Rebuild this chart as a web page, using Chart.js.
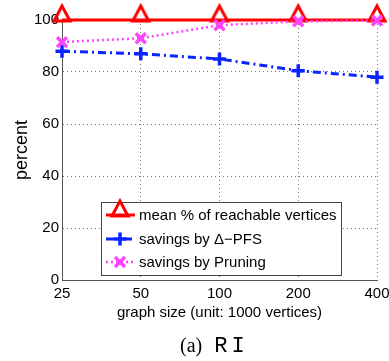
<!DOCTYPE html>
<html>
<head>
<meta charset="utf-8">
<script src="https://cdn.jsdelivr.net/npm/chart.js@4/dist/chart.umd.min.js"></script>
<style>
  html, body { margin: 0; padding: 0; background: #fff; }
  #wrap { position: relative; width: 389px; height: 361px; }
  #c { position: absolute; left: 0; top: 0; }
  #cap { position: absolute; left: 180px; top: 333px; white-space: nowrap; line-height: 24px; }
  #cap .a { font-family: "Liberation Serif", "DejaVu Serif", serif; font-size: 20px; }
  #cap .ri { font-family: "Liberation Mono", "DejaVu Sans Mono", monospace; font-size: 22px; letter-spacing: 4px; margin-left: 12px; }
</style>
</head>
<body>
<div id="wrap">
  <canvas id="c" width="389" height="361"></canvas>
  <div id="cap"><span class="a">(a)</span><span class="ri">RI</span></div>
</div>
<script>
// ---- data ----
const categories = ['25', '50', '100', '200', '400'];
const reachable = [100, 100, 100, 100, 100];
const savingsPFS = [88, 87, 85, 80.5, 78];
const savingsPruning = [91.5, 93, 98, 99.5, 99.8];
const yTicks = [0, 20, 40, 60, 80, 100];
const seriesNames = ['mean % of reachable vertices', 'savings by \u0394\u2212PFS', 'savings by Pruning'];

const FONT = '"Liberation Sans", Arial, sans-serif';

// triangle marker image (apex above, base near the point)
function triImg() {
  const c = document.createElement('canvas');
  c.width = 24; c.height = 36;
  const g = c.getContext('2d');
  g.strokeStyle = '#ff0000';
  g.lineWidth = 3;
  g.lineJoin = 'miter';
  g.beginPath();
  g.moveTo(12, 4);
  g.lineTo(20, 19);
  g.lineTo(4, 19);
  g.closePath();
  g.stroke();
  return c;
}
const TRI = triImg();

const datasets = [
  { label: seriesNames[0], data: reachable, borderColor: '#ff0000', backgroundColor: '#ff0000',
    borderWidth: 3, pointStyle: TRI, pointRadius: 9, order: 2, clip: false },
  { label: seriesNames[1], data: savingsPFS, borderColor: '#0a24ff', backgroundColor: '#0a24ff',
    borderWidth: 3, borderDash: [8, 4, 2, 4], pointStyle: 'cross', pointRadius: 6.5,
    pointBorderWidth: 3.5, order: 1, clip: false },
  { label: seriesNames[2], data: savingsPruning, borderColor: '#ff44ff', backgroundColor: '#ff44ff',
    borderWidth: 2.5, borderDash: [2, 3], pointStyle: 'crossRot', pointRadius: 7,
    pointBorderWidth: 3.5, order: 0, clip: false }
];

const legendBox = {
  id: 'legendBox',
  afterDraw(chart) {
    const ctx = chart.ctx;
    const x0 = 101, y0 = 202, w = 240, h = 73;
    ctx.save();
    ctx.fillStyle = '#fff';
    ctx.fillRect(x0, y0, w, h);
    ctx.strokeStyle = '#444';
    ctx.lineWidth = 1;
    ctx.strokeRect(x0 + 0.5, y0 + 0.5, w, h);
    const rows = [215, 239, 262];
    datasets.forEach((ds, i) => {
      const y = rows[i];
      ctx.save();
      ctx.strokeStyle = ds.borderColor;
      ctx.lineWidth = ds.borderWidth;
      ctx.setLineDash(ds.borderDash || []);
      ctx.beginPath();
      ctx.moveTo(106, y);
      ctx.lineTo(135, y);
      ctx.stroke();
      ctx.setLineDash([]);
      const cx = 120;
      if (ds.pointStyle === TRI) {
        ctx.drawImage(TRI, cx - 12, y - 18);
      } else {
        ctx.lineWidth = ds.pointBorderWidth;
        ctx.beginPath();
        if (ds.pointStyle === 'cross') {
          const r = ds.pointRadius;
          ctx.moveTo(cx - r, y); ctx.lineTo(cx + r, y);
          ctx.moveTo(cx, y - r); ctx.lineTo(cx, y + r);
        } else {
          const r = ds.pointRadius * Math.SQRT1_2;
          ctx.moveTo(cx - r, y - r); ctx.lineTo(cx + r, y + r);
          ctx.moveTo(cx - r, y + r); ctx.lineTo(cx + r, y - r);
        }
        ctx.stroke();
      }
      ctx.restore();
      ctx.fillStyle = '#000';
      ctx.font = '15px ' + FONT;
      ctx.textBaseline = 'middle';
      ctx.textAlign = 'left';
      ctx.fillText(ds.label, 139, y + 1);
    });
    ctx.restore();
  }
};

new Chart(document.getElementById('c'), {
  type: 'line',
  data: { labels: categories, datasets },
  options: {
    responsive: false,
    animation: false,
    devicePixelRatio: 1,
    layout: { padding: { top: 20, right: 11, bottom: 0, left: 0 } },
    plugins: { legend: { display: false }, tooltip: { enabled: false } },
    elements: { line: { tension: 0 } },
    scales: {
      x: {
        type: 'category',
        offset: false,
        grid: { color: '#777', lineWidth: 1, drawTicks: false },
        border: { display: true, color: '#555', width: 1, dash: [1, 3] },
        ticks: { color: '#000', font: { family: FONT, size: 15 }, padding: 5, maxRotation: 0, autoSkip: false },
        title: { display: true, text: 'graph size (unit: 1000 vertices)', color: '#000',
                 font: { family: FONT, size: 15 }, padding: { top: 0, bottom: 39 } },
        afterFit(s) { s.height = 81; s.paddingLeft = 0; s.paddingRight = 0; }
      },
      y: {
        min: 0, max: 100,
        afterBuildTicks(s) { s.ticks = yTicks.map(v => ({ value: v })); },
        grid: { color: '#777', lineWidth: 1, drawTicks: false },
        border: { display: true, color: '#555', width: 1, dash: [1, 3] },
        ticks: { color: '#000', font: { family: FONT, size: 15 }, padding: 3 },
        title: { display: true, text: 'percent', color: '#000',
                 font: { family: FONT, size: 18 }, padding: { top: 11, bottom: 0 } },
        afterFit(s) { s.width = 62; s.paddingTop = 0; s.paddingBottom = 0; }
      }
    }
  },
  plugins: [legendBox]
});
</script>
</body>
</html>
